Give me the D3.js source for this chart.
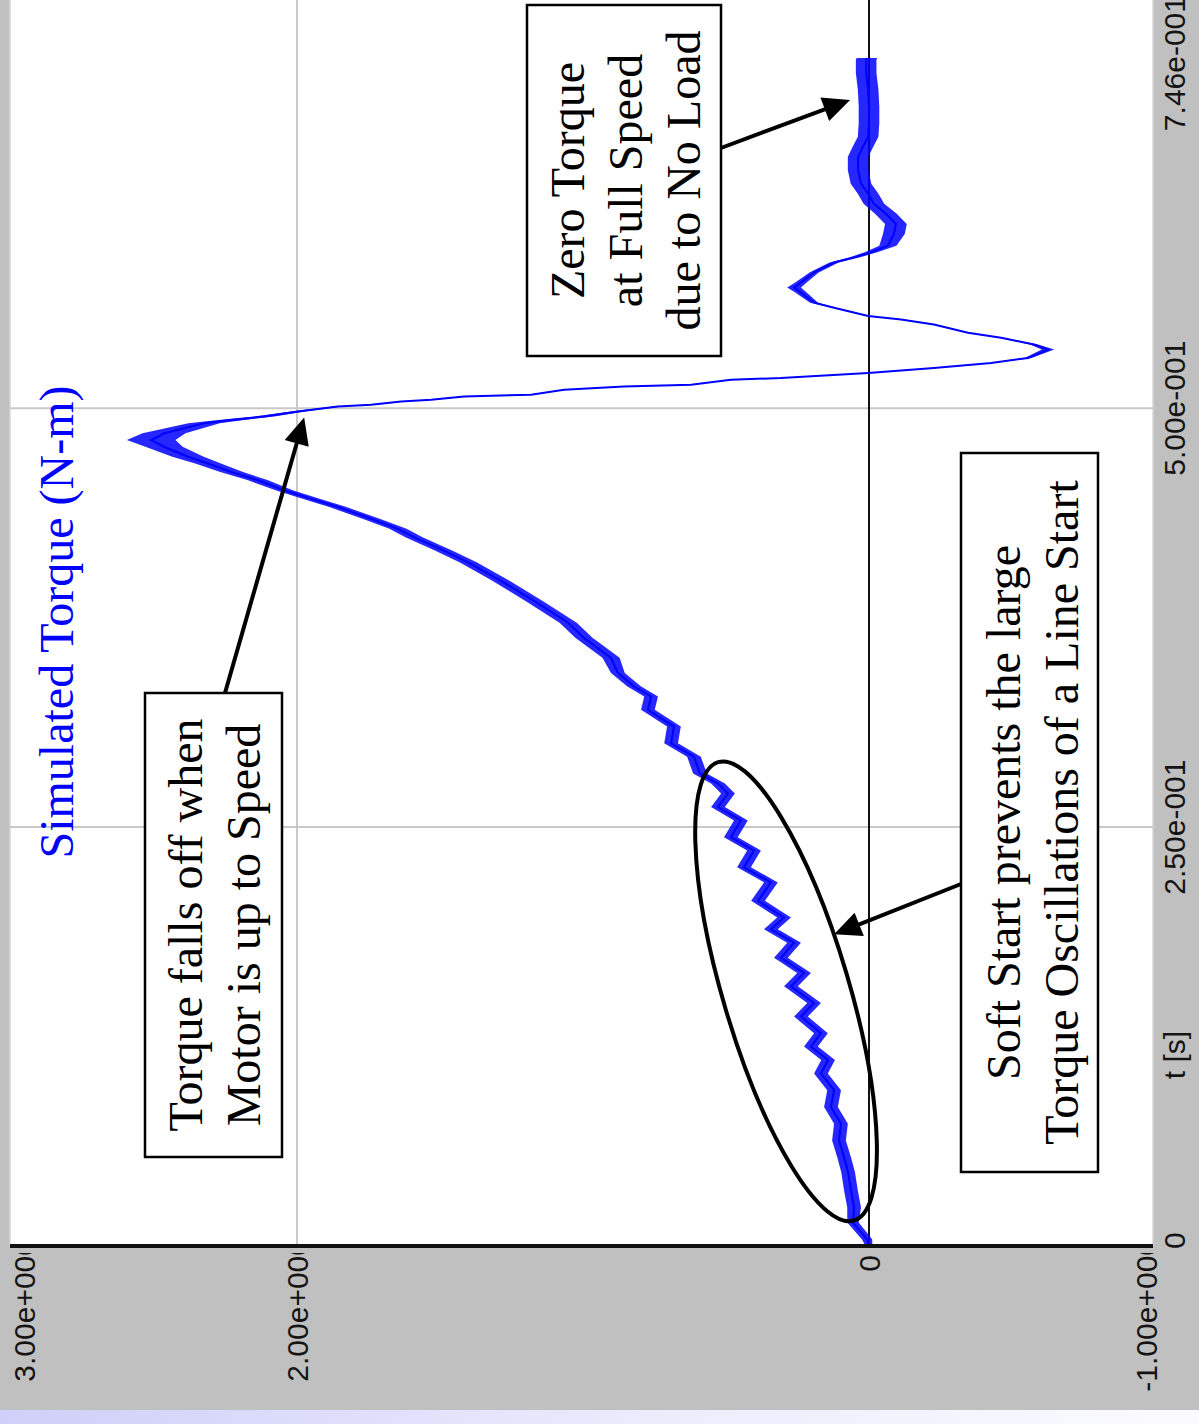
<!DOCTYPE html>
<html>
<head>
<meta charset="utf-8">
<script src="https://cdn.jsdelivr.net/npm/d3@7"></script>
<style>
  html, body { margin: 0; padding: 0; background: #ffffff; }
  svg { display: block; }
</style>
</head>
<body>
<svg id="chart" width="1199" height="1424"></svg>
<script>
// Simulated shaft torque of an induction motor during a soft start.
const timeS = [
  0.000, 0.004, 0.014, 0.023, 0.033, 0.044, 0.053, 0.063, 0.073, 0.083,
  0.093, 0.103, 0.111, 0.119, 0.127, 0.137, 0.145, 0.155, 0.163, 0.172,
  0.181, 0.189, 0.196, 0.206, 0.217, 0.226, 0.236, 0.244, 0.254, 0.262,
  0.270, 0.276, 0.282, 0.292, 0.300, 0.310, 0.320, 0.328, 0.334, 0.342,
  0.351, 0.363, 0.372, 0.385, 0.397, 0.408, 0.415, 0.423, 0.428, 0.434,
  0.441, 0.446, 0.451, 0.457, 0.462, 0.467, 0.471, 0.477, 0.481, 0.485,
  0.488, 0.491, 0.493, 0.495, 0.498, 0.501, 0.502, 0.504, 0.505, 0.507,
  0.508, 0.511, 0.513, 0.514, 0.517, 0.518, 0.521, 0.524, 0.527, 0.530,
  0.535, 0.538, 0.542, 0.545, 0.550, 0.553, 0.555, 0.560, 0.563, 0.569,
  0.572, 0.575, 0.581, 0.587, 0.590, 0.593, 0.597, 0.604, 0.610, 0.616,
  0.622, 0.628, 0.634, 0.642, 0.650, 0.656, 0.662, 0.670, 0.680, 0.690,
  0.700, 0.708, 0.709
];

// Mean torque (N-m) at each time step
const torqueNm = [
  0.000, 0.007, 0.056, 0.052, 0.063, 0.073, 0.087, 0.105, 0.098, 0.133,
  0.122, 0.168, 0.143, 0.203, 0.168, 0.238, 0.192, 0.273, 0.227, 0.308,
  0.262, 0.343, 0.297, 0.388, 0.343, 0.437, 0.402, 0.483, 0.448, 0.528,
  0.493, 0.528, 0.591, 0.612, 0.692, 0.682, 0.773, 0.762, 0.822, 0.878,
  0.902, 0.997, 1.052, 1.171, 1.287, 1.402, 1.486, 1.591, 1.647, 1.741,
  1.857, 1.951, 2.045, 2.136, 2.231, 2.311, 2.381, 2.465, 2.510, 2.465,
  2.395, 2.325, 2.231, 2.115, 1.997, 1.857, 1.741, 1.636, 1.531, 1.416,
  1.182, 1.066, 0.857, 0.622, 0.483, 0.308, 0.003, -0.227, -0.427, -0.556,
  -0.626, -0.577, -0.462, -0.346, -0.227, -0.112, 0.003, 0.122, 0.192, 0.238,
  0.262, 0.238, 0.192, 0.122, 0.052, -0.007, -0.066, -0.087, -0.094, -0.059,
  -0.017, 0.003, 0.028, 0.038, 0.038, 0.021, 0.003, 0.000, 0.000, 0.003,
  0.010, 0.010, 0.007
];

// Half-amplitude (N-m) of the switching ripple riding on the torque
const rippleNm = [
  0.012, 0.018, 0.020, 0.024, 0.024, 0.024, 0.024, 0.024, 0.024, 0.024,
  0.024, 0.024, 0.024, 0.024, 0.024, 0.024, 0.024, 0.024, 0.024, 0.024,
  0.024, 0.024, 0.024, 0.024, 0.024, 0.024, 0.024, 0.024, 0.024, 0.024,
  0.024, 0.024, 0.024, 0.024, 0.024, 0.024, 0.024, 0.024, 0.024, 0.024,
  0.030, 0.030, 0.030, 0.030, 0.030, 0.030, 0.030, 0.030, 0.030, 0.030,
  0.030, 0.030, 0.030, 0.035, 0.040, 0.045, 0.055, 0.065, 0.085, 0.075,
  0.065, 0.055, 0.045, 0.035, 0.025, 0.014, 0.014, 0.014, 0.014, 0.014,
  0.010, 0.006, 0.006, 0.006, 0.006, 0.006, 0.006, 0.006, 0.006, 0.012,
  0.022, 0.014, 0.008, 0.006, 0.006, 0.006, 0.006, 0.008, 0.014, 0.020,
  0.024, 0.020, 0.016, 0.016, 0.018, 0.022, 0.030, 0.038, 0.038, 0.038,
  0.036, 0.036, 0.036, 0.036, 0.036, 0.036, 0.036, 0.036, 0.036, 0.036,
  0.036, 0.036, 0.036
];

const timeTicks = [0, 0.25, 0.5, 0.746];
const timeTickLabels = ["0", "2.50e-001", "5.00e-001", "7.46e-001"];
const timeGrid = [0.25, 0.5];
const torqueTicks = [3, 2, 0, -1];
const torqueTickLabels = ["3.00e+000", "2.00e+000", "0", "-1.00e+000"];
const torqueGrid = [2];

const chartTitle = "Simulated Torque (N-m)";
const timeAxisTitle = "t [s]";

const noteFallOff = ["Torque falls off when", "Motor is up to Speed"];
const noteNoLoad = ["Zero Torque", "at Full Speed", "due to No Load"];
const noteSoftStart = ["Soft Start prevents the large", "Torque Oscillations of a Line Start"];
// Points the notes refer to: [time s, torque N-m]
const fallOffTarget = [0.4945, 1.975];
const noLoadTarget = [0.684, 0.066];
const softStartTarget = [0.186, 0.122];
const softStartRegion = [0.152, 0.29];

const data = timeS.map((t, i) => ({ t, q: torqueNm[i], r: rippleNm[i] }));

// ---------------------------------------------------------------------------
const W = 1199, H = 1424;
const svg = d3.select("#chart");
const SANS = "'Liberation Sans', Arial, sans-serif";
const SERIF = "'Liberation Serif', 'Times New Roman', serif";

// Window background
svg.append("rect").attr("width", W).attr("height", H).attr("fill", "#c0c0c0");
const defs = svg.append("defs");
const lav = defs.append("linearGradient").attr("id", "lav")
  .attr("x1", 0).attr("x2", 1).attr("y1", 0).attr("y2", 0);
lav.append("stop").attr("offset", 0).attr("stop-color", "#cfcff9");
lav.append("stop").attr("offset", 0.55).attr("stop-color", "#ececfd");
lav.append("stop").attr("offset", 1).attr("stop-color", "#fbfbff");
svg.append("rect").attr("x", 0).attr("y", 1410).attr("width", W).attr("height", 14)
  .attr("fill", "url(#lav)");

// The plot is laid out with time running across and torque up,
// then turned a quarter turn so time reads bottom-to-top on the page.
const g = svg.append("g").attr("transform", `translate(0,${H}) rotate(-90)`);

const x = d3.scaleLinear().domain([0, 0.746]).range([178, 1428]);
const y = d3.scaleLinear().domain([-1, 3]).range([1155, 11]);

const plotTop = 10, plotBottom = 1153;

g.append("rect")
  .attr("x", x(0)).attr("y", plotTop)
  .attr("width", x(0.746) - x(0) + 4).attr("height", plotBottom - plotTop)
  .attr("fill", "#ffffff").attr("stroke", "#d6d6d6").attr("stroke-width", 1.5);

// Grid
g.selectAll("line.tgrid").data(timeGrid).join("line")
  .attr("class", "tgrid")
  .attr("x1", d => x(d)).attr("x2", d => x(d))
  .attr("y1", plotTop).attr("y2", plotBottom)
  .attr("stroke", "#c9c9c9").attr("stroke-width", 2);
g.selectAll("line.qgrid").data(torqueGrid).join("line")
  .attr("class", "qgrid")
  .attr("x1", x(0)).attr("x2", x(0.746) + 4)
  .attr("y1", d => y(d)).attr("y2", d => y(d))
  .attr("stroke", "#c9c9c9").attr("stroke-width", 2);

// Zero-torque reference
g.append("line")
  .attr("x1", x(0)).attr("x2", x(0.746) + 4)
  .attr("y1", y(0)).attr("y2", y(0))
  .attr("stroke", "#111").attr("stroke-width", 2);

// Torque trace: ripple band plus mean line
const band = d3.area()
  .x(d => x(d.t))
  .y0(d => y(d.q - d.r))
  .y1(d => y(d.q + d.r));
const mean = d3.line().x(d => x(d.t)).y(d => y(d.q));

g.append("path").datum(data).attr("d", band)
  .attr("fill", "#0000ff").attr("fill-opacity", 0.85);
g.append("path").datum(data).attr("d", mean)
  .attr("fill", "none").attr("stroke", "#0000ff").attr("stroke-width", 2)
  .attr("stroke-linejoin", "miter");

// Torque axis line
g.append("line")
  .attr("x1", x(0)).attr("x2", x(0))
  .attr("y1", plotTop).attr("y2", plotBottom)
  .attr("stroke", "#111").attr("stroke-width", 4);

// Torque tick labels (the axis strip crops anything that runs into the plot)
const clip = defs.append("clipPath").attr("id", "qlabclip");
clip.append("rect").attr("x", 0).attr("y", 0).attr("width", 171).attr("height", W);
const qTicks = torqueTicks.map((v, i) => ({ v, label: torqueTickLabels[i] }));
g.append("g").attr("clip-path", "url(#qlabclip)")
  .selectAll("text").data(qTicks).join("text")
  .attr("x", d => d.label.length > 1 ? 185 : 169)
  .attr("y", d => Math.max(24, Math.min(1146, y(d.v))))
  .attr("text-anchor", "end")
  .attr("dominant-baseline", "central")
  .attr("font-family", SANS).attr("font-size", 30).attr("fill", "#141414")
  .text(d => d.label);

// Time tick labels
const tTicks = timeTicks.map((v, i) => ({ v, label: timeTickLabels[i], i }));
g.selectAll("text.tlab").data(tTicks).join("text")
  .attr("class", "tlab")
  .attr("x", d => d.i === 0 ? x(d.v) - 3 : x(d.v))
  .attr("y", 1185)
  .attr("text-anchor", d => d.i === 0 ? "start" : (d.i === tTicks.length - 1 ? "end" : "middle"))
  .attr("font-family", SANS).attr("font-size", 30).attr("fill", "#141414")
  .text(d => d.label);

g.append("text")
  .attr("x", x(0.114)).attr("y", 1185)
  .attr("text-anchor", "middle")
  .attr("font-family", SANS).attr("font-size", 30).attr("fill", "#141414")
  .text(timeAxisTitle);

// Chart title
g.append("text")
  .attr("x", 802).attr("y", 73)
  .attr("text-anchor", "middle")
  .attr("font-family", SERIF).attr("font-size", 48).attr("fill", "#0000ff")
  .text(chartTitle);

// Annotations
function noteBox(u0, u1, v0, v1, lines, baselines) {
  g.append("rect")
    .attr("x", u0).attr("y", v0).attr("width", u1 - u0).attr("height", v1 - v0)
    .attr("fill", "#ffffff").attr("stroke", "#000").attr("stroke-width", 2.5);
  const t = g.append("text")
    .attr("text-anchor", "middle")
    .attr("font-family", SERIF).attr("font-size", 48).attr("fill", "#000");
  lines.forEach((s, i) => {
    t.append("tspan").attr("x", (u0 + u1) / 2).attr("y", baselines[i]).text(s);
  });
}

function arrow(from, to) {
  const dx = to[0] - from[0], dy = to[1] - from[1];
  const len = Math.hypot(dx, dy);
  const ux = dx / len, uy = dy / len;
  const headL = 27, headW = 12.5;
  const bx = to[0] - ux * headL, by = to[1] - uy * headL;
  g.append("line")
    .attr("x1", from[0]).attr("y1", from[1])
    .attr("x2", bx + ux * 2).attr("y2", by + uy * 2)
    .attr("stroke", "#000").attr("stroke-width", 4);
  g.append("path")
    .attr("d", `M${to[0]},${to[1]}L${bx - uy * headW},${by + ux * headW}L${bx + uy * headW},${by - ux * headW}Z`)
    .attr("fill", "#000");
}

noteBox(267, 731, 145, 282, noteFallOff, [202, 260]);
arrow([731, 225], [x(fallOffTarget[0]), y(fallOffTarget[1])]);

noteBox(1068, 1419, 527, 721, noteNoLoad, [584, 642, 700]);
arrow([1276, 721], [x(noLoadTarget[0]), y(noLoadTarget[1])]);

noteBox(252, 971, 961, 1098, noteSoftStart, [1020, 1078]);
arrow([540, 961], [x(softStartTarget[0]), y(softStartTarget[1])]);

// Ellipse around the soft-start ramp
const cx = x(softStartRegion[0]), cy = y(softStartRegion[1]);
g.append("ellipse")
  .attr("cx", cx).attr("cy", cy).attr("rx", 239).attr("ry", 63)
  .attr("transform", `rotate(-16.5,${cx},${cy})`)
  .attr("fill", "none").attr("stroke", "#000").attr("stroke-width", 4);
</script>
</body>
</html>
